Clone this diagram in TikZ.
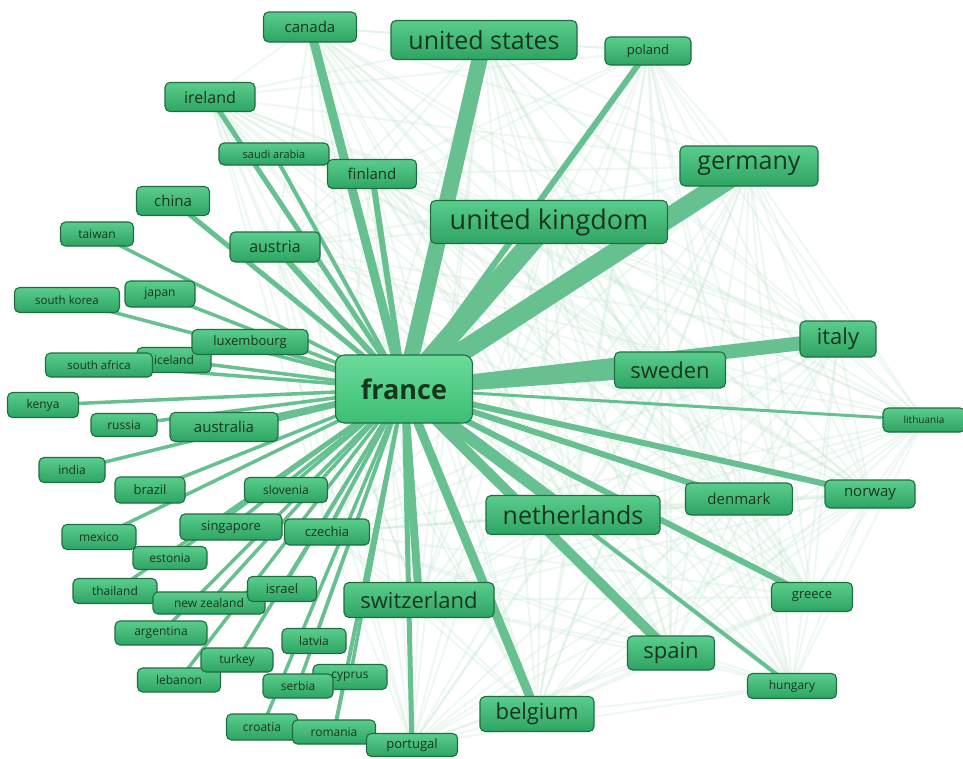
\documentclass[tikz,border=0pt]{standalone}
\usepackage{fontspec}
\setmainfont{Open Sans}

% drawing layers: faint web at the bottom, links above it, boxes on top
\pgfdeclarelayer{web}
\pgfdeclarelayer{links}
\pgfsetlayers{web,links,main}

\definecolor{linkgreen}{HTML}{66C08F}
\definecolor{webgreen}{HTML}{B5E2C7}
\definecolor{boxtop}{HTML}{5ACD8B}
\definecolor{boxbot}{HTML}{2EA463}
\definecolor{hubtop}{HTML}{6ADB9A}
\definecolor{hubbot}{HTML}{3CBF74}
\definecolor{boxline}{HTML}{1F6E40}
\definecolor{boxtext}{HTML}{17361F}

\tikzset{
  country/.style={draw=boxline, line width=1.1pt, rounded corners=5pt,
    top color=boxtop, bottom color=boxbot, text=boxtext, inner sep=0pt},
  hub/.style={country, top color=hubtop, bottom color=hubbot, rounded corners=9pt,
    font=\fontsize{27}{27}\selectfont\bfseries},
  link/.style={draw=linkgreen, line cap=butt},
  webline/.style={draw=webgreen, line width=2pt, opacity=.22},
}

% \cnode{name}{x}{y}{width}{height}{font size}{label}
\newcommand\cnode[7]{%
  \node[country, minimum width=#4pt, minimum height=#5pt,
        font=\fontsize{#6}{#6}\selectfont] (#1) at (#2,#3) {#7};}

\begin{document}
\begin{tikzpicture}[x=1pt, y=-1pt]
\begin{pgfonlayer}{web}
  \fill[white] (0,0) rectangle (963,758);
\end{pgfonlayer}
\useasboundingbox (0,0) rectangle (963,758);

\node[hub, minimum width=137pt, minimum height=68pt] (france) at (404,389) {france};

\cnode{canada}{310}{27}{93}{30}{15}{canada}
\cnode{us}{484}{40}{186}{39}{25}{united states}
\cnode{poland}{648}{51}{86}{28}{13}{poland}
\cnode{ireland}{210}{97}{90}{29}{16}{ireland}
\cnode{saudi}{274}{154}{110}{22}{11}{saudi arabia}
\cnode{finland}{372}{174}{89}{29}{15}{finland}
\cnode{germany}{749}{166}{138}{40}{25}{germany}
\cnode{china}{173}{201}{73}{29}{15}{china}
\cnode{uk}{549}{222}{237}{43}{27}{united kingdom}
\cnode{taiwan}{97}{234}{73}{24}{12}{taiwan}
\cnode{austria}{275}{247}{90}{30}{16}{austria}
\cnode{skorea}{67}{300}{105}{25}{11.5}{south korea}
\cnode{japan}{160}{294}{70}{26}{12}{japan}
\cnode{iceland}{174}{360}{74}{25}{12}{iceland}
\cnode{luxembourg}{250}{342}{116}{25}{13}{luxembourg}
\cnode{safrica}{99}{365}{107}{24}{11.5}{south africa}
\cnode{italy}{838}{339}{76}{36}{22}{italy}
\cnode{sweden}{670}{370}{111}{36}{22}{sweden}
\cnode{lithuania}{924}{420}{82}{24}{10}{lithuania}
\cnode{kenya}{43}{405}{71}{25}{12}{kenya}
\cnode{russia}{124}{425}{66}{23}{12}{russia}
\cnode{australia}{224}{427}{108}{29}{15}{australia}
\cnode{india}{72}{470}{66}{25}{12}{india}
\cnode{brazil}{150}{490}{70}{26}{13}{brazil}
\cnode{slovenia}{286}{490}{83}{25}{12}{slovenia}
\cnode{denmark}{739}{499}{107}{32}{15}{denmark}
\cnode{norway}{870}{494}{90}{28}{15}{norway}
\cnode{netherlands}{573}{515}{174}{39}{25}{netherlands}
\cnode{mexico}{99}{537}{74}{25}{12}{mexico}
\cnode{singapore}{231}{527}{102}{26}{13}{singapore}
\cnode{czechia}{327}{532}{85}{26}{13}{czechia}
\cnode{estonia}{170}{558}{74}{23}{12}{estonia}
\cnode{thailand}{115}{591}{84}{25}{12}{thailand}
\cnode{nzealand}{209}{603}{112}{22}{12}{new zealand}
\cnode{israel}{282}{589}{69}{25}{13}{israel}
\cnode{switzerland}{419}{600}{150}{35}{22}{switzerland}
\cnode{greece}{812}{597}{81}{29}{13}{greece}
\cnode{argentina}{161}{633}{92}{24}{12}{argentina}
\cnode{latvia}{314}{641}{64}{25}{12}{latvia}
\cnode{spain}{671}{653}{87}{34}{22}{spain}
\cnode{lebanon}{179}{680}{83}{24}{12}{lebanon}
\cnode{turkey}{237}{660}{72}{24}{12}{turkey}
\cnode{cyprus}{350}{677}{74}{25}{12}{cyprus}
\cnode{serbia}{298}{686}{70}{24}{12}{serbia}
\cnode{hungary}{792}{686}{89}{25}{12}{hungary}
\cnode{belgium}{537}{714}{114}{35}{22}{belgium}
\cnode{croatia}{262}{727}{71}{26}{12}{croatia}
\cnode{romania}{334}{732}{83}{24}{12}{romania}
\cnode{portugal}{412}{745}{91}{23}{13}{portugal}

% faint web of links among the partner countries
\begin{pgfonlayer}{web}
  \foreach \a [count=\i] in {canada,us,poland,germany,uk,italy,sweden,lithuania,
      norway,denmark,netherlands,greece,spain,hungary,belgium,switzerland,
      finland,ireland,austria,portugal,czechia}{
    \foreach \b [count=\j] in {canada,us,poland,germany,uk,italy,sweden,lithuania,
        norway,denmark,netherlands,greece,spain,hungary,belgium,switzerland,
        finland,ireland,austria,portugal,czechia}{
      \ifnum\j>\i \draw[webline] (\a.center) -- (\b.center);\fi
    }
  }
\end{pgfonlayer}

% links from france, width by weight
\begin{pgfonlayer}{links}
  \foreach \n/\w in {uk/20, germany/20, us/16, italy/14, sweden/12, netherlands/12,
      spain/10, belgium/9, switzerland/8, canada/9, finland/6, poland/6, ireland/5,
      austria/6, china/5, saudi/4, denmark/6, norway/6, greece/6, hungary/4,
      lithuania/3, portugal/5, taiwan/3.5, skorea/3.5, japan/3.5, luxembourg/4,
      iceland/3.5, safrica/3.5, kenya/3.5, russia/3.5, australia/5, india/3.5,
      brazil/3.5, slovenia/3.5, mexico/3.5, singapore/3.5, czechia/4, estonia/3.5,
      thailand/3.5, nzealand/3.5, israel/3.5, argentina/3.5, latvia/3.5,
      lebanon/3.5, turkey/3.5, cyprus/3.5, serbia/3.5, croatia/3.5, romania/4}{
    \draw[link, line width=\w pt] (france.center) -- (\n.center);
  }
\end{pgfonlayer}
\end{tikzpicture}
\end{document}
